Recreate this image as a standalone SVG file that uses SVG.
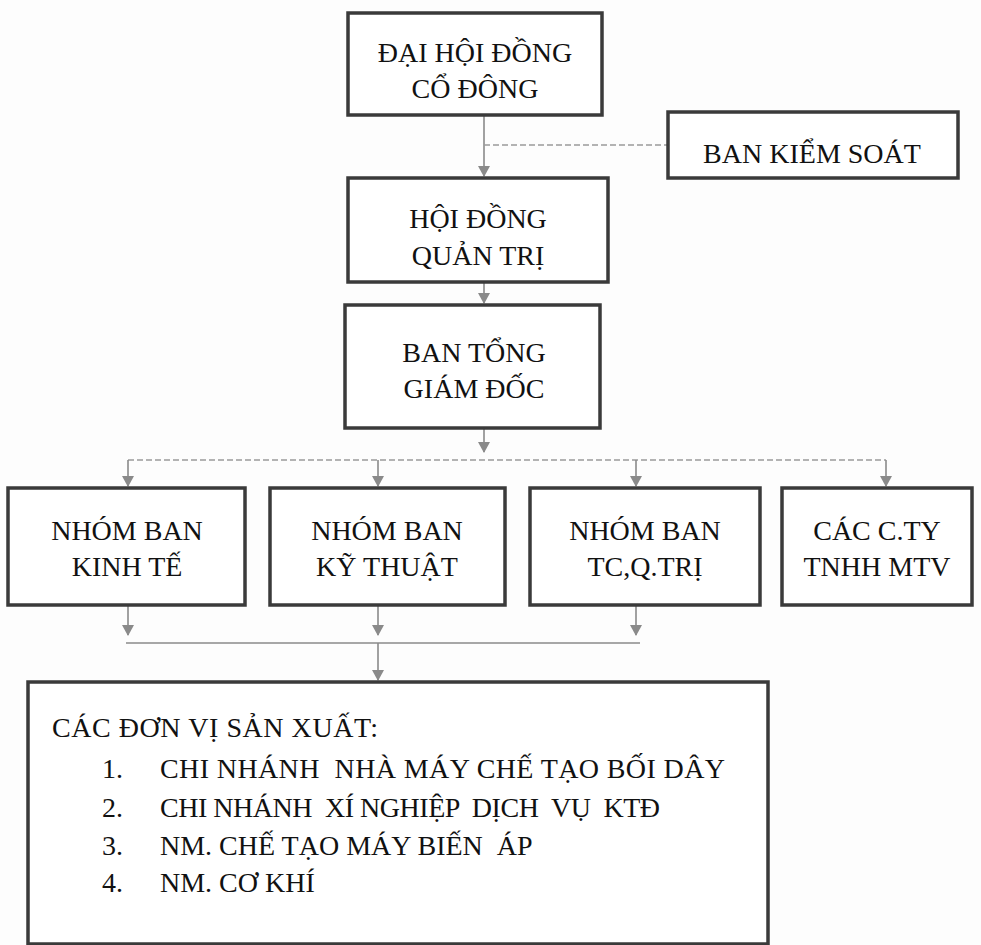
<svg xmlns="http://www.w3.org/2000/svg" width="981" height="945" viewBox="0 0 981 945">
<defs>
<style>
.box{fill:#fff;stroke:#3a3a3a;stroke-width:3.5}
.t{font-family:"Liberation Serif","DejaVu Serif",serif;font-size:28px;fill:#111;text-anchor:middle}
.l{font-family:"Liberation Serif","DejaVu Serif",serif;font-size:28px;fill:#111;white-space:pre}
.c{stroke:#8a8a8a;stroke-width:1.6;fill:none}
.d{stroke:#9a9a9a;stroke-width:1.6;fill:none;stroke-dasharray:6 3}
</style>
<marker id="dn" viewBox="0 0 12 12" refX="6" refY="11" markerWidth="12" markerHeight="12" markerUnits="userSpaceOnUse">
<path d="M0,1 L12,1 L6,12 Z" fill="#8a8a8a"/>
</marker>
</defs>
<rect width="981" height="945" fill="#fdfdfd"/>
<g id="connectors">
<line class="c" x1="484" y1="115" x2="484" y2="176" marker-end="url(#dn)"/>
<line class="d" x1="484" y1="145" x2="668" y2="145"/>
<line class="c" x1="484" y1="282" x2="484" y2="303" marker-end="url(#dn)"/>
<line class="c" x1="484" y1="428" x2="484" y2="452" marker-end="url(#dn)"/>
<line class="d" x1="128" y1="460" x2="886" y2="460"/>
<line class="c" x1="128" y1="460" x2="128" y2="486" marker-end="url(#dn)"/>
<line class="c" x1="378" y1="460" x2="378" y2="486" marker-end="url(#dn)"/>
<line class="c" x1="636" y1="460" x2="636" y2="486" marker-end="url(#dn)"/>
<line class="c" x1="886" y1="460" x2="886" y2="486" marker-end="url(#dn)"/>
<line class="c" x1="128" y1="605" x2="128" y2="635" marker-end="url(#dn)"/>
<line class="c" x1="378" y1="605" x2="378" y2="635" marker-end="url(#dn)"/>
<line class="c" x1="636" y1="605" x2="636" y2="635" marker-end="url(#dn)"/>
<line class="c" x1="126" y1="643" x2="640" y2="643"/>
<line class="c" x1="378" y1="643" x2="378" y2="680" marker-end="url(#dn)"/>
</g>
<g id="dhdcd">
<rect class="box" x="348" y="13" width="254" height="102"/>
<text class="t" x="475" y="62">ĐẠI HỘI ĐỒNG</text>
<text class="t" x="475" y="98">CỔ ĐÔNG</text>
</g>
<g id="bks">
<rect class="box" x="668" y="112" width="290" height="66"/>
<text class="t" x="812" y="163">BAN KIỂM SOÁT</text>
</g>
<g id="hdqt">
<rect class="box" x="348" y="178" width="260" height="104"/>
<text class="t" x="478" y="228">HỘI ĐỒNG</text>
<text class="t" x="478" y="265">QUẢN TRỊ</text>
</g>
<g id="btgd">
<rect class="box" x="345" y="305" width="255" height="123"/>
<text class="t" x="474" y="362">BAN TỔNG</text>
<text class="t" x="474" y="398">GIÁM ĐỐC</text>
</g>
<g id="nbkt">
<rect class="box" x="8" y="488" width="237" height="117"/>
<text class="t" x="127" y="540">NHÓM BAN</text>
<text class="t" x="127" y="576">KINH TẾ</text>
</g>
<g id="nbkythuat">
<rect class="box" x="270" y="488" width="235" height="117"/>
<text class="t" x="387" y="540">NHÓM BAN</text>
<text class="t" x="387" y="576">KỸ THUẬT</text>
</g>
<g id="nbtc">
<rect class="box" x="530" y="488" width="230" height="117"/>
<text class="t" x="645" y="540">NHÓM BAN</text>
<text class="t" x="645" y="576">TC,Q.TRỊ</text>
</g>
<g id="cty">
<rect class="box" x="782" y="488" width="190" height="117"/>
<text class="t" x="877" y="540">CÁC C.TY</text>
<text class="t" x="877" y="576">TNHH MTV</text>
</g>
<g id="dvsx">
<rect class="box" x="28" y="682" width="740" height="262"/>
<text class="l" x="52" y="737" textLength="326">CÁC ĐƠN VỊ SẢN XUẤT:</text>
<text class="l" x="102" y="778">1.</text>
<text class="l" x="160" y="778" textLength="565">CHI NHÁNH  NHÀ MÁY CHẾ TẠO BỐI DÂY</text>
<text class="l" x="102" y="817">2.</text>
<text class="l" x="160" y="817" textLength="500">CHI NHÁNH  XÍ NGHIỆP  DỊCH  VỤ  KTĐ</text>
<text class="l" x="102" y="855">3.</text>
<text class="l" x="160" y="855">NM. CHẾ TẠO MÁY BIẾN  ÁP</text>
<text class="l" x="102" y="892">4.</text>
<text class="l" x="160" y="892">NM. CƠ KHÍ</text>
</g>
</svg>
